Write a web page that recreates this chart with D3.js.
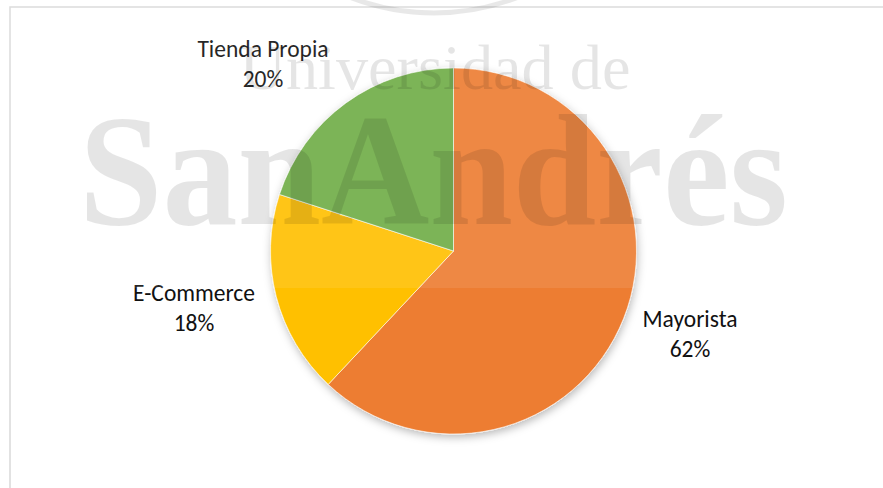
<!DOCTYPE html>
<html>
<head>
<meta charset="utf-8">
<script src="https://cdn.jsdelivr.net/npm/d3@7"></script>
<style>
  html, body { margin: 0; padding: 0; background: #ffffff; }
  svg { display: block; }
</style>
</head>
<body>
<div id="chart"></div>
<script>
// Sales channel shares
const channels = ["Mayorista", "E-Commerce", "Tienda Propia"];
const shares = [62, 18, 20];
const sliceColors = ["#ED7D31", "#FFC000", "#70AD47"];

const W = 883, H = 488;
const cx = 453.5, cy = 251, radius = 183;

// Label anchors (centre x, first baseline)
const labelLayout = {
  "Mayorista":     { x: 690, y: 327 },
  "E-Commerce":    { x: 194, y: 301 },
  "Tienda Propia": { x: 263, y: 57 }
};
const lineGap = 29.5;

const svg = d3.select("#chart").append("svg")
  .attr("width", W).attr("height", H);

const defs = svg.append("defs");
const shadow = defs.append("filter").attr("id", "pieShadow")
  .attr("x", "-20%").attr("y", "-20%").attr("width", "140%").attr("height", "140%");
shadow.append("feDropShadow")
  .attr("dx", 1).attr("dy", 3).attr("stdDeviation", 4)
  .attr("flood-color", "#000").attr("flood-opacity", 0.28);

// chart frame
svg.append("rect")
  .attr("x", 10).attr("y", 7).attr("width", W + 20).attr("height", H + 20)
  .attr("fill", "none").attr("stroke", "#d9d9d9").attr("stroke-width", 1.5);

const color = d3.scaleOrdinal().domain(channels).range(sliceColors);

const pie = d3.pie().sort(null).value(d => d.value);
const arc = d3.arc().innerRadius(0).outerRadius(radius);

const data = channels.map((c, i) => ({ name: c, value: shares[i] }));
const arcs = pie(data);

const g = svg.append("g")
  .attr("transform", `translate(${cx},${cy})`)
  .attr("filter", "url(#pieShadow)");

g.selectAll("path")
  .data(arcs)
  .join("path")
  .attr("d", arc)
  .attr("fill", d => color(d.data.name))
  .attr("stroke", "#ffffff")
  .attr("stroke-width", 0.6);

// data labels
const fmt = d3.format(".0%");
const total = d3.sum(shares);
const labels = svg.append("g")
  .attr("font-family", "Calibri, Carlito, Lato, sans-serif")
  .attr("font-size", 23.5)
  .attr("fill", "#111111")
  .attr("text-anchor", "middle");

arcs.forEach(a => {
  const pos = labelLayout[a.data.name];
  const t = labels.append("text").attr("x", pos.x).attr("y", pos.y);
  t.append("tspan").attr("x", pos.x).attr("y", pos.y).text(a.data.name);
  t.append("tspan").attr("x", pos.x).attr("y", pos.y + lineGap)
    .text(fmt(a.data.value / total));
});

// watermark layer
const wm = svg.append("g").attr("pointer-events", "none");
wm.append("rect")
  .attr("x", 0).attr("y", 0).attr("width", W).attr("height", 288)
  .attr("fill", "#ffffff").attr("fill-opacity", 0.09);

wm.append("circle")
  .attr("cx", 434).attr("cy", 13 - 232).attr("r", 232)
  .attr("fill", "none").attr("stroke", "#000").attr("stroke-opacity", 0.09)
  .attr("stroke-width", 5);

wm.append("text")
  .attr("x", 435).attr("y", 89)
  .attr("text-anchor", "middle")
  .attr("font-family", "'Liberation Serif', 'Times New Roman', serif")
  .attr("font-size", 64)
  .attr("textLength", 391).attr("lengthAdjust", "spacingAndGlyphs")
  .attr("fill", "#000").attr("fill-opacity", 0.1)
  .text("Universidad de");

wm.append("text")
  .attr("x", 433.5).attr("y", 224)
  .attr("text-anchor", "middle")
  .attr("font-family", "'Liberation Serif', 'Times New Roman', serif")
  .attr("font-size", 158)
  .attr("font-weight", "bold")
  .attr("textLength", 709).attr("lengthAdjust", "spacingAndGlyphs")
  .attr("fill", "#000").attr("fill-opacity", 0.1)
  .text("SanAndrés");
</script>
</body>
</html>
